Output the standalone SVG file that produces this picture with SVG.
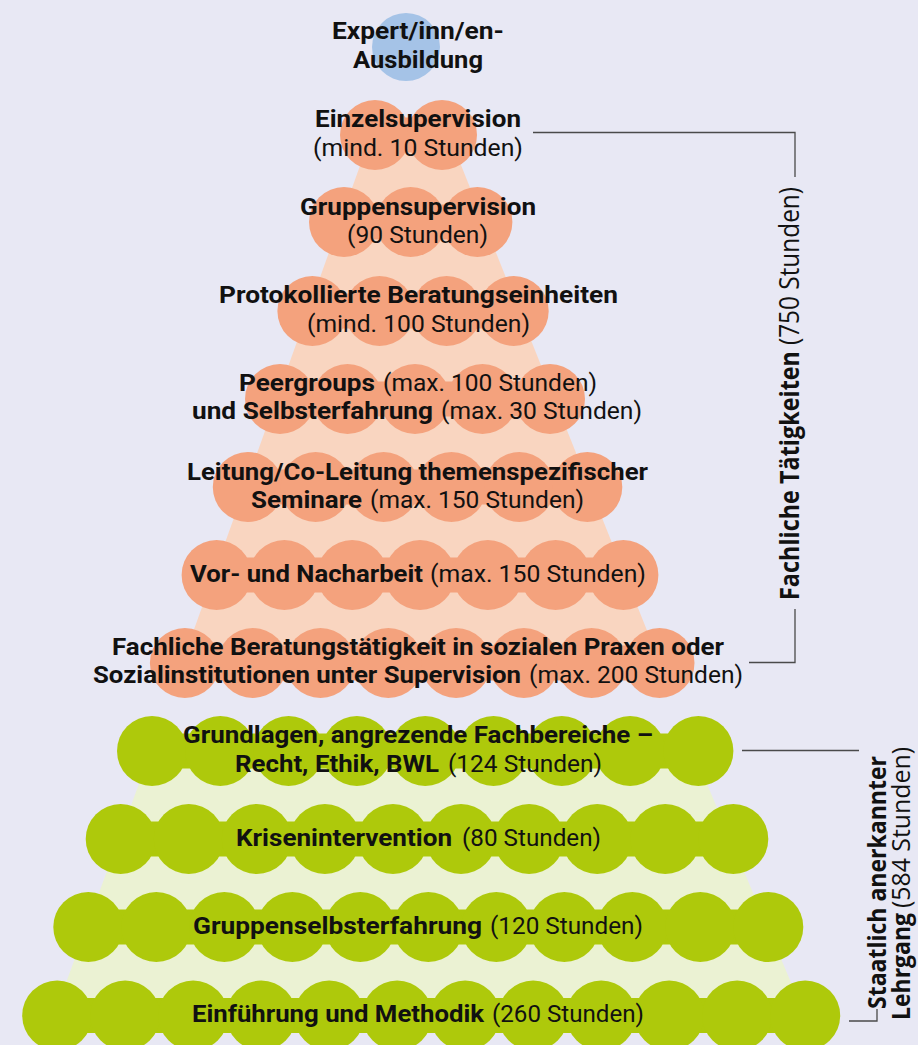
<svg xmlns="http://www.w3.org/2000/svg" width="918" height="1045" viewBox="0 0 918 1045">
<style>
.bg{fill:#e8e8f4}
.o{fill:#f4a27d}
.g{fill:#aec90b}
.pe{fill:#f9d5c0}
.lg{fill:#ebf2d3}
.bl{fill:#a5c3e7}
.b{font-family:Roboto,"Liberation Sans",sans-serif;font-weight:700;font-size:23.5px;fill:#111}
.r{font-family:Roboto,"Liberation Sans",sans-serif;font-weight:400;font-size:23.5px;fill:#111}
.vb{font-family:"Open Sans","DejaVu Sans",sans-serif;font-weight:700;font-size:27px;fill:#111}
.vr{font-family:"Open Sans","DejaVu Sans",sans-serif;font-weight:400;font-size:27px;fill:#111}
.vb2{font-family:"Open Sans","DejaVu Sans",sans-serif;font-weight:700;font-size:25px;fill:#111}
.vr2{font-family:"Open Sans","DejaVu Sans",sans-serif;font-weight:400;font-size:25px;fill:#111}
.ln{fill:none;stroke:#4a4a4a;stroke-width:1.3}
</style>
<rect class="bg" x="0" y="0" width="918" height="1045"/>
<polygon class="pe" points="371,135 449,135 660,663 182,663"/>
<polygon class="lg" points="151,751 693,751 805,1015.5 54,1015.5"/>

<g id="node-expert">
<circle class="bl" cx="406" cy="47" r="34"/>
<text class="b" x="332" y="39" textLength="172" lengthAdjust="spacingAndGlyphs">Expert/inn/en-</text>
<text class="b" x="353" y="68" textLength="130" lengthAdjust="spacingAndGlyphs">Ausbildung</text>
</g>

<g id="node-einzelsupervision">
<rect class="o" x="375" y="117.5" width="67" height="35"/>
<circle class="o" cx="375" cy="135" r="35"/><circle class="o" cx="442" cy="135" r="35"/>
<text class="b" x="315" y="127" textLength="206" lengthAdjust="spacingAndGlyphs">Einzelsupervision</text>
<text class="r" x="313" y="156" textLength="210" lengthAdjust="spacingAndGlyphs">(mind. 10 Stunden)</text>
</g>

<g id="node-gruppensupervision">
<rect class="o" x="344" y="204.5" width="133.4" height="35"/>
<circle class="o" cx="344" cy="222" r="35"/><circle class="o" cx="410.7" cy="222" r="35"/><circle class="o" cx="477.4" cy="222" r="35"/>
<text class="b" x="300" y="215" textLength="236" lengthAdjust="spacingAndGlyphs">Gruppensupervision</text>
<text class="r" x="347" y="243" textLength="141" lengthAdjust="spacingAndGlyphs">(90 Stunden)</text>
</g>

<g id="node-protokollierte">
<rect class="o" x="312.4" y="293.5" width="201.3" height="35"/>
<circle class="o" cx="312.4" cy="311" r="35"/><circle class="o" cx="379.5" cy="311" r="35"/><circle class="o" cx="446.6" cy="311" r="35"/><circle class="o" cx="513.7" cy="311" r="35"/>
<text class="b" x="219" y="303" textLength="399" lengthAdjust="spacingAndGlyphs">Protokollierte Beratungseinheiten</text>
<text class="r" x="307" y="332" textLength="223" lengthAdjust="spacingAndGlyphs">(mind. 100 Stunden)</text>
</g>

<g id="node-peergroups">
<rect class="o" x="280" y="381.5" width="270" height="35"/>
<circle class="o" cx="280" cy="399" r="35"/><circle class="o" cx="347.5" cy="399" r="35"/><circle class="o" cx="415" cy="399" r="35"/><circle class="o" cx="482.5" cy="399" r="35"/><circle class="o" cx="550" cy="399" r="35"/>
<text class="b" x="239" y="391" textLength="136" lengthAdjust="spacingAndGlyphs">Peergroups</text>
<text class="r" x="383" y="391" textLength="214" lengthAdjust="spacingAndGlyphs">(max. 100 Stunden)</text>
<text class="b" x="192" y="419" textLength="241" lengthAdjust="spacingAndGlyphs">und Selbsterfahrung</text>
<text class="r" x="441" y="419" textLength="201" lengthAdjust="spacingAndGlyphs">(max. 30 Stunden)</text>
</g>

<g id="node-leitung">
<rect class="o" x="247.8" y="469.5" width="339.5" height="35"/>
<circle class="o" cx="247.8" cy="487" r="35"/><circle class="o" cx="315.7" cy="487" r="35"/><circle class="o" cx="383.6" cy="487" r="35"/><circle class="o" cx="451.5" cy="487" r="35"/><circle class="o" cx="519.4" cy="487" r="35"/><circle class="o" cx="587.3" cy="487" r="35"/>
<text class="b" x="187" y="480" textLength="461" lengthAdjust="spacingAndGlyphs">Leitung/Co-Leitung themenspezifischer</text>
<text class="b" x="251" y="508" textLength="111" lengthAdjust="spacingAndGlyphs">Seminare</text>
<text class="r" x="370" y="508" textLength="214" lengthAdjust="spacingAndGlyphs">(max. 150 Stunden)</text>
</g>

<g id="node-vor-nacharbeit">
<rect class="o" x="216.6" y="557.5" width="406.8" height="35"/>
<circle class="o" cx="216.6" cy="575" r="35"/><circle class="o" cx="284.4" cy="575" r="35"/><circle class="o" cx="352.2" cy="575" r="35"/><circle class="o" cx="420" cy="575" r="35"/><circle class="o" cx="487.8" cy="575" r="35"/><circle class="o" cx="555.6" cy="575" r="35"/><circle class="o" cx="623.4" cy="575" r="35"/>
<text class="b" x="190" y="582" textLength="233" lengthAdjust="spacingAndGlyphs">Vor- und Nacharbeit</text>
<text class="r" x="430" y="582" textLength="216" lengthAdjust="spacingAndGlyphs">(max. 150 Stunden)</text>
</g>

<g id="node-beratungstaetigkeit">
<rect class="o" x="184.9" y="645.5" width="474.6" height="35"/>
<circle class="o" cx="184.9" cy="663" r="35"/><circle class="o" cx="252.7" cy="663" r="35"/><circle class="o" cx="320.5" cy="663" r="35"/><circle class="o" cx="388.3" cy="663" r="35"/><circle class="o" cx="456.1" cy="663" r="35"/><circle class="o" cx="523.9" cy="663" r="35"/><circle class="o" cx="591.7" cy="663" r="35"/><circle class="o" cx="659.5" cy="663" r="35"/>
<text class="b" x="112" y="655" textLength="612" lengthAdjust="spacingAndGlyphs">Fachliche Beratungstätigkeit in sozialen Praxen oder</text>
<text class="b" x="93" y="683" textLength="428" lengthAdjust="spacingAndGlyphs">Sozialinstitutionen unter Supervision</text>
<text class="r" x="529" y="683" textLength="214" lengthAdjust="spacingAndGlyphs">(max. 200 Stunden)</text>
</g>

<g id="node-grundlagen">
<rect class="g" x="152" y="733.5" width="546.4" height="35"/>
<circle class="g" cx="152" cy="751" r="35"/><circle class="g" cx="220.3" cy="751" r="35"/><circle class="g" cx="288.6" cy="751" r="35"/><circle class="g" cx="356.9" cy="751" r="35"/><circle class="g" cx="425.2" cy="751" r="35"/><circle class="g" cx="493.5" cy="751" r="35"/><circle class="g" cx="561.8" cy="751" r="35"/><circle class="g" cx="630.1" cy="751" r="35"/><circle class="g" cx="698.4" cy="751" r="35"/>
<text class="b" x="183" y="743" textLength="470" lengthAdjust="spacingAndGlyphs">Grundlagen, angrezende Fachbereiche –</text>
<text class="b" x="235" y="772" textLength="204" lengthAdjust="spacingAndGlyphs">Recht, Ethik, BWL</text>
<text class="r" x="448" y="772" textLength="154" lengthAdjust="spacingAndGlyphs">(124 Stunden)</text>
</g>

<g id="node-krisenintervention">
<rect class="g" x="120.7" y="821.5" width="612.6" height="35"/>
<circle class="g" cx="120.7" cy="839" r="35"/><circle class="g" cx="188.8" cy="839" r="35"/><circle class="g" cx="256.8" cy="839" r="35"/><circle class="g" cx="324.9" cy="839" r="35"/><circle class="g" cx="393" cy="839" r="35"/><circle class="g" cx="461" cy="839" r="35"/><circle class="g" cx="529.1" cy="839" r="35"/><circle class="g" cx="597.2" cy="839" r="35"/><circle class="g" cx="665.2" cy="839" r="35"/><circle class="g" cx="733.3" cy="839" r="35"/>
<text class="b" x="236" y="846" textLength="216" lengthAdjust="spacingAndGlyphs">Krisenintervention</text>
<text class="r" x="462" y="846" textLength="139" lengthAdjust="spacingAndGlyphs">(80 Stunden)</text>
</g>

<g id="node-gruppenselbsterfahrung">
<rect class="g" x="88.3" y="909.5" width="680" height="35"/>
<circle class="g" cx="88.3" cy="927" r="35"/><circle class="g" cx="156.3" cy="927" r="35"/><circle class="g" cx="224.3" cy="927" r="35"/><circle class="g" cx="292.3" cy="927" r="35"/><circle class="g" cx="360.3" cy="927" r="35"/><circle class="g" cx="428.3" cy="927" r="35"/><circle class="g" cx="496.3" cy="927" r="35"/><circle class="g" cx="564.3" cy="927" r="35"/><circle class="g" cx="632.3" cy="927" r="35"/><circle class="g" cx="700.3" cy="927" r="35"/><circle class="g" cx="768.3" cy="927" r="35"/>
<text class="b" x="193" y="934" textLength="289" lengthAdjust="spacingAndGlyphs">Gruppenselbsterfahrung</text>
<text class="r" x="490" y="934" textLength="153" lengthAdjust="spacingAndGlyphs">(120 Stunden)</text>
</g>

<g id="node-einfuehrung">
<rect class="g" x="57.2" y="998" width="748" height="35"/>
<circle class="g" cx="57.2" cy="1015.5" r="35"/><circle class="g" cx="125.2" cy="1015.5" r="35"/><circle class="g" cx="193.2" cy="1015.5" r="35"/><circle class="g" cx="261.2" cy="1015.5" r="35"/><circle class="g" cx="329.2" cy="1015.5" r="35"/><circle class="g" cx="397.2" cy="1015.5" r="35"/><circle class="g" cx="465.2" cy="1015.5" r="35"/><circle class="g" cx="533.2" cy="1015.5" r="35"/><circle class="g" cx="601.2" cy="1015.5" r="35"/><circle class="g" cx="669.2" cy="1015.5" r="35"/><circle class="g" cx="737.2" cy="1015.5" r="35"/><circle class="g" cx="805.2" cy="1015.5" r="35"/>
<text class="b" x="192" y="1022" textLength="292" lengthAdjust="spacingAndGlyphs">Einführung und Methodik</text>
<text class="r" x="492" y="1022" textLength="152" lengthAdjust="spacingAndGlyphs">(260 Stunden)</text>
</g>

<g id="connectors">
<polyline class="ln" points="533,132.5 795,132.5 795,177"/>
<polyline class="ln" points="795,609 795,662.5 749,662.5"/>
<line class="ln" x1="742" y1="750.5" x2="859" y2="750.5"/>
<polyline class="ln" points="877,1009 877,1021 849,1021"/>
</g>

<g id="label-fachliche">
<text class="vb" transform="translate(799,600) rotate(-90)" x="0" y="0" textLength="249" lengthAdjust="spacingAndGlyphs">Fachliche Tätigkeiten</text>
<text class="vr" transform="translate(799,345) rotate(-90)" x="0" y="0" textLength="158" lengthAdjust="spacingAndGlyphs">(750 Stunden)</text>
</g>

<g id="label-lehrgang">
<text class="vb2" transform="translate(886,1009) rotate(-90)" x="0" y="0" textLength="253" lengthAdjust="spacingAndGlyphs">Staatlich anerkannter</text>
<text class="vb2" transform="translate(910,1020) rotate(-90)" x="0" y="0" textLength="107" lengthAdjust="spacingAndGlyphs">Lehrgang</text>
<text class="vr2" transform="translate(910,908) rotate(-90)" x="0" y="0" textLength="161" lengthAdjust="spacingAndGlyphs">(584 Stunden)</text>
</g>
</svg>
